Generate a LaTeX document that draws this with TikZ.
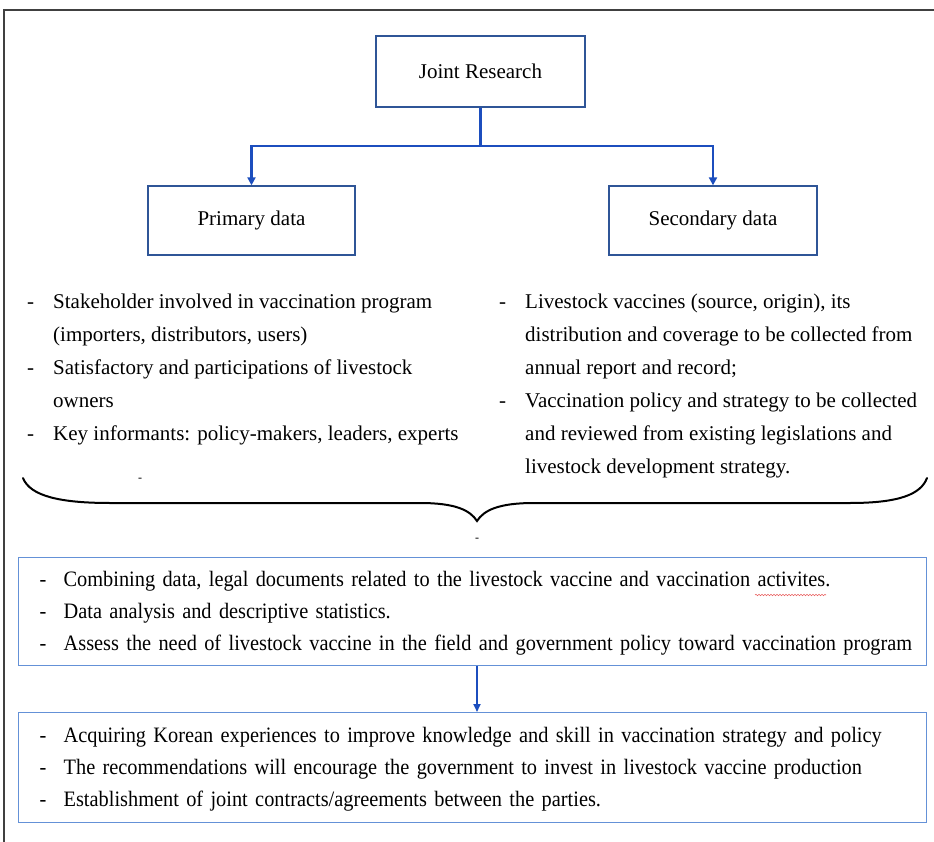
\documentclass[tikz,border=0pt]{standalone}
\usepackage{fontspec}
\setmainfont{Liberation Serif}
\newfontfamily\narrowserif[FakeStretch=0.925,WordSpace=0.7]{Liberation Serif}
\usetikzlibrary{arrows.meta,decorations.pathmorphing}

\definecolor{framegray}{RGB}{64,64,64}
\definecolor{boxblue}{RGB}{47,85,151}
\definecolor{lightboxblue}{RGB}{100,145,215}
\definecolor{linkblue}{RGB}{28,78,190}
\definecolor{spellred}{RGB}{232,96,96}

% list helpers: a bullet line starting with a hyphen, and a continuation line
\newcommand{\dashitem}[1]{\strut\makebox[26pt][l]{-}#1}
\newcommand{\contline}[1]{\strut\hspace*{26pt}#1}
\newcommand{\bdash}[1]{\mbox{\strut\makebox[24pt][l]{-}#1}}

\tikzset{
  framestroke/.style={draw=framegray, line width=1.5pt},
  topbox/.style={draw=boxblue, line width=1.3pt, inner sep=0pt,
    font=\fontsize{21}{25}\selectfont},
  listtext/.style={inner sep=0pt, anchor=north west, align=left,
    font=\fontsize{21}{33}\selectfont},
  resultbox/.style={draw=lightboxblue, line width=1.3pt, anchor=north west,
    inner xsep=21pt, inner ysep=0pt, text width=866pt, minimum width=908pt,
    align=left, font=\narrowserif\fontsize{22}{32}\selectfont},
  linkarrow/.style={draw=linkblue, line width=2.6pt,
    -{Triangle[length=8pt,width=8pt]}},
  linkthin/.style={draw=linkblue, line width=1.8pt,
    -{Triangle[length=8pt,width=7pt]}},
  bracestroke/.style={draw=black, line width=2pt, line cap=round},
  smallmark/.style={inner sep=0pt, font=\fontsize{12}{12}\selectfont},
}

\begin{document}
\begin{tikzpicture}[x=1pt,y=-1pt]
  \useasboundingbox (0,0) rectangle (934,842);

  % outer frame (left and top edges)
  \draw[framestroke] (4,842) -- (4,10) -- (934,10);

  % heading boxes
  \node[topbox, minimum width=209pt, minimum height=71pt] (jr) at (480.5,71.5) {Joint Research};
  \node[topbox, minimum width=207pt, minimum height=69pt] (prim) at (251.5,220.5) {Primary data};
  \node[topbox, minimum width=208pt, minimum height=69pt] (sec) at (713,220.5) {Secondary data};

  % branching connector
  \coordinate (split) at (480.5,146);
  \draw[linkarrow] (jr.south) -- (split) -| (prim.north);
  \draw[linkarrow] (split) -| (sec.north);

  % primary data list
  \node[listtext] (plist) at (27,285) {%
    \dashitem{Stakeholder involved in vaccination program}\\
    \contline{(importers, distributors, users)}\\
    \dashitem{Satisfactory and participations of livestock}\\
    \contline{owners}\\
    \dashitem{Key informants: policy-makers, leaders, experts}};

  % secondary data list
  \node[listtext] (slist) at (499,285) {%
    \dashitem{Livestock vaccines (source, origin), its}\\
    \contline{distribution and coverage to be collected from}\\
    \contline{annual report and record;}\\
    \dashitem{Vaccination policy and strategy to be collected}\\
    \contline{and reviewed from existing legislations and}\\
    \contline{livestock development strategy.}};

  \node[smallmark] (mark1) at (140,480) {-};

  % curly brace gathering both lists
  \draw[bracestroke] (23,478) .. controls (30,496) and (60,503) .. (110,503)
    -- (420,503) .. controls (455,503) and (470,510) .. (477,521)
    .. controls (484,510) and (499,503) .. (534,503)
    -- (850,503) .. controls (900,503) and (921,494) .. (927,478);

  \node[smallmark] (mark2) at (477,540) {-};

  % analysis box
  \node[resultbox, minimum height=108pt] (analysis) at (18,557) {%
    \bdash{Combining data, legal documents related to the livestock vaccine and vaccination activites.}\\
    \bdash{Data analysis and descriptive statistics.}\\
    \bdash{Assess the need of livestock vaccine in the field and government policy toward vaccination program}};

  % spell-check squiggle under the misspelt word
  \draw[spellred, line width=0.6pt, decorate,
    decoration={snake, amplitude=0.7pt, segment length=3pt}] (755,595) -- (826,595);

  % outcome box
  \node[resultbox, minimum height=110pt] (outcome) at (18,712) {%
    \bdash{Acquiring Korean experiences to improve knowledge and skill in vaccination strategy and policy}\\
    \bdash{The recommendations will encourage the government to invest in livestock vaccine production}\\
    \bdash{Establishment of joint contracts/agreements between the parties.}};

  \draw[linkthin] (analysis.south -| mark2) -- (outcome.north -| mark2);
\end{tikzpicture}
\end{document}
